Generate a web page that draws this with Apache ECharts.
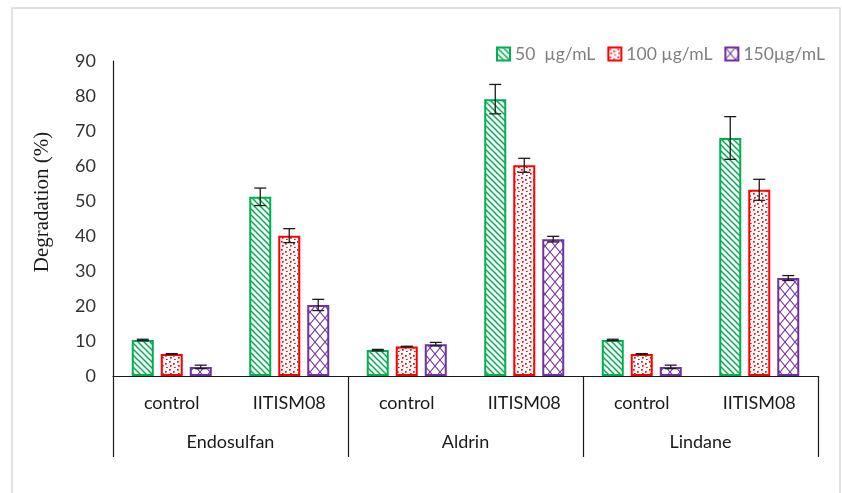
<!DOCTYPE html>
<html>
<head>
<meta charset="utf-8">
<script src="https://cdn.jsdelivr.net/npm/echarts@6/dist/echarts.min.js"></script>
<style>
  html, body { margin: 0; padding: 0; background: #fff; }
  #chart { width: 842px; height: 493px; }
</style>
</head>
<body>
<div id="chart"></div>
<script>
// Strain / treatment categories and the pesticide each pair belongs to
const categories = ['control', 'IITISM08', 'control', 'IITISM08', 'control', 'IITISM08'];
const pesticides = ['Endosulfan', 'Aldrin', 'Lindane'];
const seriesNames = ['50  µg/mL', '100 µg/mL', '150µg/mL'];
const yTitle = 'Degradation (%)';

// Degradation (%) per concentration
const values50  = [10.3, 51.2, 7.4, 79.1, 10.3, 68.0];
const values100 = [6.3, 40.1, 8.4, 60.2, 6.3, 53.2];
const values150 = [2.6, 20.3, 9.1, 39.1, 2.6, 28.0];

// Standard deviation per bar
const err50  = [0.2, 2.5, 0.2, 4.2, 0.2, 6.1];
const err100 = [0.1, 2.0, 0.1, 2.0, 0.1, 3.0];
const err150 = [0.5, 1.6, 0.5, 0.8, 0.5, 0.7];

const yTicks = { min: 0, max: 90, interval: 10 };

const GREEN = '#00b050', RED = '#ff0000', PURPLE = '#7030a0';

// --- fill patterns ---
function tile(w, h, draw) {
  const c = document.createElement('canvas');
  c.width = w; c.height = h;
  const ctx = c.getContext('2d');
  ctx.fillStyle = '#fff';
  ctx.fillRect(0, 0, w, h);
  draw(ctx);
  return c;
}
const hatchGreen = tile(6, 6, ctx => {
  ctx.strokeStyle = GREEN; ctx.lineWidth = 1.5;
  ctx.beginPath();
  ctx.moveTo(-1, -1); ctx.lineTo(7, 7);
  ctx.moveTo(-1, 5); ctx.lineTo(1, 7);
  ctx.moveTo(5, -1); ctx.lineTo(7, 1);
  ctx.stroke();
});
const dotsRed = tile(8, 8, ctx => {
  ctx.fillStyle = RED;
  [[1, 1], [5, 3], [2, 5], [6, 7]].forEach(p => ctx.fillRect(p[0], p[1], 1.7, 1.7));
});
const latticePurple = tile(10, 12, ctx => {
  ctx.strokeStyle = PURPLE; ctx.lineWidth = 1.1;
  ctx.beginPath();
  ctx.moveTo(0, 0); ctx.lineTo(10, 12);
  ctx.moveTo(10, 0); ctx.lineTo(0, 12);
  ctx.stroke();
});

const fills = [
  { fill: hatchGreen, line: GREEN, vals: values50, errs: err50 },
  { fill: dotsRed, line: RED, vals: values100, errs: err100 },
  { fill: latticePurple, line: PURPLE, vals: values150, errs: err150 }
];

const BAR_W = 22, BAR_GAP = 7;

const barSeries = fills.map((f, i) => ({
  name: seriesNames[i],
  type: 'bar',
  xAxisIndex: 0,
  barWidth: BAR_W,
  barGap: (BAR_GAP / BAR_W * 100) + '%',
  data: f.vals,
  itemStyle: {
    color: { image: f.fill, repeat: 'repeat' },
    borderColor: f.line,
    borderWidth: 2
  },
  emphasis: { disabled: true }
}));

const errorSeries = fills.map((f, i) => ({
  type: 'custom',
  xAxisIndex: 0,
  z: 5,
  silent: true,
  data: f.vals.map((v, k) => [k, v, f.errs[k]]),
  renderItem: (params, api) => {
    const k = api.value(0), v = api.value(1), e = api.value(2);
    const x = api.coord([k, 0])[0] + (i - 1) * (BAR_W + BAR_GAP);
    const yTop = api.coord([k, v + e])[1];
    const yBot = api.coord([k, v - e])[1];
    const half = 6;
    const st = { stroke: '#1a1a1a', lineWidth: 1.3 };
    return {
      type: 'group',
      children: [
        { type: 'line', shape: { x1: x, y1: yTop, x2: x, y2: yBot }, style: st },
        { type: 'line', shape: { x1: x - half, y1: yTop, x2: x + half, y2: yTop }, style: st },
        { type: 'line', shape: { x1: x - half, y1: yBot, x2: x + half, y2: yBot }, style: st }
      ]
    };
  }
}));

const chart = echarts.init(document.getElementById('chart'), null, { renderer: 'canvas' });
chart.setOption({
  animation: false,
  backgroundColor: '#fff',
  graphic: [
    {
      type: 'rect',
      shape: { x: 12, y: 8, width: 828, height: 495 },
      style: { fill: 'none', stroke: '#d9d9d9', lineWidth: 1.5 },
      silent: true, z: -1
    },
    {
      type: 'text',
      x: 42, y: 202,
      rotation: Math.PI / 2,
      style: {
        text: yTitle,
        font: '21px "Liberation Serif"',
        fill: '#1a1a1a',
        align: 'center',
        verticalAlign: 'middle'
      },
      silent: true
    }
  ],
  legend: {
    data: seriesNames,
    left: 491,
    top: 40,
    itemWidth: 13,
    itemHeight: 13,
    itemGap: 12,
    icon: 'rect',
    textStyle: { fontFamily: 'Lato', fontSize: 17.5, color: '#7f7f7f' }
  },
  grid: { left: 113, right: 24, top: 61, bottom: 117, containLabel: false },
  xAxis: [
    {
      type: 'category',
      data: categories,
      position: 'bottom',
      axisLine: { show: true, lineStyle: { color: '#1a1a1a', width: 1.2 } },
      axisTick: { show: false },
      axisLabel: { interval: 0, margin: 18, fontFamily: 'Lato', fontSize: 18, color: '#1a1a1a' }
    },
    {
      type: 'category',
      data: pesticides,
      position: 'bottom',
      axisLine: { show: false },
      axisTick: { show: true, length: 81, interval: 0, lineStyle: { color: '#1a1a1a', width: 1.2 } },
      axisLabel: { interval: 0, margin: 57, fontFamily: 'Lato', fontSize: 18, color: '#1a1a1a' }
    }
  ],
  yAxis: {
    type: 'value',
    min: yTicks.min,
    max: yTicks.max,
    interval: yTicks.interval,
    axisLine: { show: true, lineStyle: { color: '#1a1a1a', width: 1.2 } },
    axisTick: { show: false },
    splitLine: { show: false },
    axisLabel: { margin: 17, fontFamily: 'Lato', fontSize: 18, color: '#333' }
  },
  series: barSeries.concat(errorSeries)
});
</script>
</body>
</html>
